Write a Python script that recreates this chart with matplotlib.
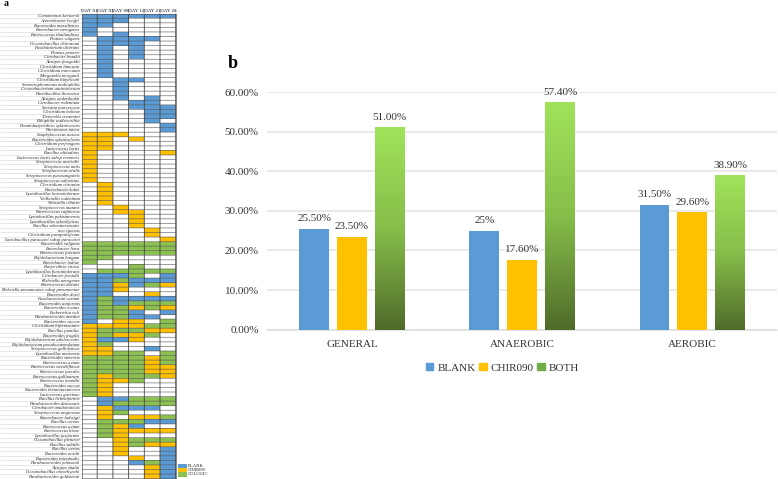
#!/usr/bin/env python3

import numpy as np
import matplotlib
matplotlib.use("Agg")
import matplotlib.pyplot as plt
from matplotlib.colors import ListedColormap, LinearSegmentedColormap
from matplotlib.patches import Patch

plt.rcParams['font.family'] = ['Liberation Serif', 'DejaVu Serif']

W, H = 778, 479

# panel a
days = ["DAY 01", "DAY 03", "DAY 08", "DAY 12", "DAY 21", "DAY 28"]
species = [
    "Comamonas kerstersii", "Acinetobacter lwoffii", "Bacteroides massiliensis",
    "Enterobacter aerogenes", "Enterococcus thailandicus", "Proteus vulgaris",
    "Oceanobacillus chironomi", "Fusobacterium ulcerans", "Proteus penneri",
    "Citrobacter braakii", "Alistipes finegoldii", "Clostridium limosum",
    "Clostridium innocuum", "Morganella morganii", "Clostridium butyricum",
    "Stenotrophomonas maltophilia", "Corynebacterium aurimucosum", "Paenibacillus thoracica",
    "Alistipes onderdonkii", "Citrobacter rodentium", "Serratia marcescens",
    "Clostridium bolteae", "Tissierella creatinini", "Bilophila wadsworthia",
    "Pseudobutyrivibrio xylanivorans", "Parvimonas micra", "Staphylococcus aureus",
    "Bacteroides xylanisolvens", "Clostridium perfringens", "Lactococcus lactis",
    "Bacillus altitudinis", "Lactococcus lactis subsp cremoris", "Streptococcus australis",
    "Streptococcus mitis", "Streptococcus oralis", "Streptococcus parasanguinis",
    "Streptococcus salivarius", "Clostridium citroniae", "Enterobacter kobei",
    "Lysinibacillus boronitolerans", "Veillonella rodentium", "Weissella cibaria",
    "Streptococcus mutans", "Enterococcus raffinosus", "Lysinibacillus pakistanensis",
    "Lysinibacillus xylanilyticus", "Bacillus selenatarsenatis", "neo cjaceus",
    "Clostridium paraputrificum", "Lactobacillus paracasei subsp paracasei",
    "Bacteroides vulgatus", "Enterobacter liora", "Enterococcus faecium",
    "Bifidobacterium longum", "Enterobacter indiae", "Butyrivibrio virosa",
    "Lysinibacillus boronitolerans", "Citrobacter freundii", "Klebsiella aerogenes",
    "Enterococcus durans", "Klebsiella pneumoniae subsp pneumoniae", "Bacteroides dorei",
    "Fusobacterium varium", "Bacteroides uniformis", "Bacteroides ovatus",
    "Escherichia coli", "Parabacteroides merdae", "Bacteroides caccae",
    "Clostridium bifermentans", "Bacillus pumilus", "Bacteroides fragilis",
    "Bifidobacterium adolescentis", "Bifidobacterium pseudocatenulatum", "Streptococcus gallolyticus",
    "Lysinibacillus mairensis", "Bacteroides stercoris", "Enterococcus avium",
    "Enterococcus casseliflavus", "Enterococcus faecalis", "Enterococcus gallinarum",
    "Enterococcus mundtii", "Bacteroides caccae", "Bacteroides thetaiotaomicron",
    "Lactococcus garvieae", "Bacillus licheniformis", "Parabacteroides distasonis",
    "Citrobacter amalonaticus", "Streptococcus anginosus", "Enterobacter ludwigii",
    "Bacillus cereus", "Enterococcus avium", "Enterococcus hirae",
    "Lysinibacillus fusiformis", "Oceanobacillus picturae", "Bacillus subtilis",
    "Bacillus aerius", "Bacteroides nordii", "Bacteroides intestinalis",
    "Parabacteroides johnsonii", "Alistipes shahii", "Oceanobacillus oncorhynchi",
    "Parabacteroides goldsteinii",
]
# . none, B blank, Y chir090, G third group
presence = [
    "BBBBBB", "BBB...", "BB....", "B.....", "B.B...", ".BBBB.", ".BBB..", ".B.B..", ".B.B..",
    ".B.B..", ".B....", ".B....", ".B....", ".B....", "..BB..", "..B...", "..B...", "..B...",
    "..B.B.", "...BB.", "...BBB", "....BB", "....BB", "....B.", ".....B", ".....B",
    "YYY...", "YY.Y..", "YY....", "YY....", "Y....Y", "Y.....", "Y.....", "Y.....", "Y.....",
    "Y.....", "Y.....", ".Y....", ".Y....", ".Y....", ".Y....", ".Y....", "..Y...", "..YY..",
    "...Y..", "...Y..", "...Y..", "....Y.", "....Y.", ".....Y",
    "GGGGGG", "GGGGGG", "GGGGGG", "GG....", "G.....", "...G..", ".GGGGG",
    "BBBG.B", "BBGBBB", "BBYBGY", "BBY...", "BB..Y.", "BGBBBB", "BGBGGG", "BGGYGY", "BGGB.B",
    "BGGBB.", "B.YY.G", "YYYYGG", "YGGGYY", "YGYYG.", "YBBY..", "YG....", "YY..B.", "YYGG.G",
    "GGGGYG", "GGGGYG", "GGGGYY", "GGGGYY", "GYGGGY", "GYYG..", "GY....", "GY....", "GY....",
    ".BBGGG", ".BGGGG", ".YBBB.", ".YG...", ".Y.YYG", ".GGGBB", ".GYB..", ".GYYYY", ".GY...",
    "..YGGG", "..YGYY", "..Y..B", "..Y..B", "...Y.B", "...BGB", "....YB", "....YB", "....YB",
]
heat_legend = ["BLANK", "CHIR090", "COLOGIC"]

# panel b
groups = ["GENERAL", "ANAEROBIC", "AEROBIC"]
blank = [25.5, 25.0, 31.5]
chir090 = [23.5, 17.6, 29.6]
both = [51.0, 57.4, 38.9]
blank_labels = ["25.50%", "25%", "31.50%"]
chir090_labels = ["23.50%", "17.60%", "29.60%"]
both_labels = ["51.00%", "57.40%", "38.90%"]
yticks = [0, 10, 20, 30, 40, 50, 60]

BLUE = "#5B9BD5"
GOLD = "#FFC000"
GREEN = "#8CC152"


def px_axes(fig, left, top, right, bottom):
    return fig.add_axes([left / W, 1 - bottom / H, (right - left) / W, (bottom - top) / H])


fig = plt.figure(figsize=(W / 100, H / 100), dpi=100)

# panel a: presence table
ax = px_axes(fig, 81.5, 13.7, 175.7, 478.6)
codes = {".": 0, "B": 1, "Y": 2, "G": 3}
grid = np.array([[codes[c] for c in row] for row in presence])
ax.pcolormesh(grid, cmap=ListedColormap(["white", BLUE, GOLD, GREEN]), vmin=0, vmax=3)
# snapping off, otherwise the thin rules land unevenly on the pixel rows
rows = ax.hlines(np.arange(len(species) + 1), 0, len(days), color="#555555", linewidth=0.55, alpha=0.75)
cols = ax.vlines(np.arange(len(days) + 1), 0, len(species), color="#444444", linewidth=0.6)
rows.set_snap(False)
cols.set_snap(False)
ax.set_xlim(0, len(days))
ax.set_ylim(len(species), 0)
ax.set_xticks(np.arange(len(days)) + 0.5, days)
ax.xaxis.tick_top()
ax.set_yticks(np.arange(len(species)) + 0.5)
ax.set_yticklabels(species, fontsize=3.3, style="italic", color="#222222")
ax.tick_params(length=0, pad=1.5)
ax.tick_params(axis="x", labelsize=3.6, pad=0.3)
for s in ax.spines.values():
    s.set_color("#555555")
    s.set_linewidth(0.5)

# faint rows behind the species names
back = px_axes(fig, 0, 13.7, 81.5, 478.6)
back.set_xlim(0, 1)
back.set_ylim(len(species), 0)
back.hlines(np.arange(len(species) + 1), 0, 1, color="#d5d5d5", linewidth=0.4)
back.axis("off")
back.set_zorder(-1)

# header frame
head = px_axes(fig, 81.5, 9.8, 175.7, 13.7)
head.set_xlim(0, len(days))
head.set_ylim(0, 1)
head.vlines(range(len(days) + 1), 0, 1, color="#666666", linewidth=0.3)
head.patch.set_alpha(0)
head.axis("off")

leg_a = px_axes(fig, 178, 464, 198, 476.5)
leg_a.set_xlim(0, 1)
leg_a.set_ylim(3, 0)
leg_a.barh(np.arange(3) + 0.5, [0.44] * 3, height=1, color=[BLUE, GOLD, GREEN])
for i, name in enumerate(heat_legend):
    leg_a.text(0.5, i + 0.5, name, fontsize=3.3, va="center", ha="left", color="#222222")
leg_a.axis("off")

fig.text(4 / W, 1 - 6 / H, "a", fontsize=7, fontweight="bold", va="baseline")
fig.text(228 / W, 1 - 68 / H, "b", fontsize=13, fontweight="bold", va="baseline")

# panel b: bars
ax2 = px_axes(fig, 267, 92, 777.3, 329.7)
x = np.arange(len(groups))
step = 37.8 / 170
width = 29.7 / 170
bars1 = ax2.bar(x - step, blank, width, color=BLUE, zorder=3, label="BLANK")
bars2 = ax2.bar(x, chir090, width, color=GOLD, zorder=3, label="CHIR090")
bars3 = ax2.bar(x + step, both, width, color="none", zorder=3)

# green bars fade to dark at the base
fade = LinearSegmentedColormap.from_list("fade", ["#A0E35A", "#86BE4A", "#4F6B2A"])
ramp = np.linspace(0, 1, 256).reshape(-1, 1)
for b in bars3:
    ax2.imshow(ramp, cmap=fade, aspect="auto", zorder=3,
               extent=[b.get_x(), b.get_x() + b.get_width(), 0, b.get_height()])

for bars, labels in [(bars1, blank_labels), (bars2, chir090_labels), (bars3, both_labels)]:
    for b, lab in zip(bars, labels):
        ax2.annotate(lab, (b.get_x() + b.get_width() / 2, b.get_height()), xytext=(0, 4),
                     textcoords="offset points", ha="center", va="bottom", fontsize=8,
                     color="#333333", zorder=4)

ax2.set_xlim(-0.5, 2.5)
ax2.set_ylim(0, 60)
ax2.set_xticks(x, groups)
ax2.set_yticks(yticks, [f"{v:.2f}%" for v in yticks])
ax2.grid(axis="y", color="#e3e3e3", linewidth=1.1, zorder=0)
ax2.set_axisbelow(True)
ax2.tick_params(length=0, labelsize=8, labelcolor="#333333")
ax2.tick_params(axis="y", pad=6)
ax2.tick_params(axis="x", pad=7.5)
for name, s in ax2.spines.items():
    s.set_visible(name == "bottom")
ax2.spines["bottom"].set_color("#dddddd")
ax2.spines["bottom"].set_linewidth(1.1)

handles = [Patch(color=BLUE, label="BLANK"), Patch(color=GOLD, label="CHIR090"),
           Patch(color="#70AD47", label="BOTH")]
fig.legend(handles=handles, ncol=3, loc="center", bbox_to_anchor=(502.5 / W, 1 - 367.7 / H),
           frameon=False, fontsize=8, labelcolor="#333333", handlelength=0.65, handleheight=0.65,
           handletextpad=0.35, columnspacing=0.35, borderpad=0)

fig.savefig("out.png", dpi=100)
